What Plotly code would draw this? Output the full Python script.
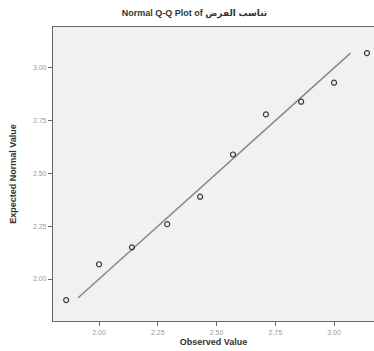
import plotly.graph_objects as go

observed = [1.86, 2.00, 2.14, 2.29, 2.43, 2.57, 2.71, 2.86, 3.00, 3.14]
expected = [1.90, 2.07, 2.15, 2.26, 2.39, 2.59, 2.78, 2.84, 2.93, 3.07]
ref_line = [1.91, 3.07]
tick_vals = [2.00, 2.25, 2.50, 2.75, 3.00]
tick_text = ["2.00", "2.25", "2.50", "2.75", "3.00"]

fig = go.Figure()
fig.add_trace(go.Scatter(x=ref_line, y=ref_line, mode="lines",
                         line=dict(color="#8a8a8a", width=1.6), hoverinfo="skip"))
fig.add_trace(go.Scatter(x=observed, y=expected, mode="markers",
                         marker=dict(symbol="circle-open", size=5, color="#3a3a3a",
                                     line=dict(width=1.2, color="#3a3a3a"))))

font = "Liberation Sans, DejaVu Sans, Arial, sans-serif"
fig.update_layout(
    width=374, height=351,
    margin=dict(l=53, r=0, t=27, b=30),
    paper_bgcolor="white", plot_bgcolor="#f1f1f1",
    showlegend=False,
    font=dict(family=font),
    title=dict(text="<b>Normal Q-Q Plot of تناسب الفرض</b>", x=0.52, xanchor="center",
               y=0.962, yanchor="middle", font=dict(size=9, color="#333")),
)
fig.update_xaxes(range=[1.804, 3.17], tickvals=tick_vals, ticktext=tick_text,
                 showgrid=False, zeroline=False, showline=True, linecolor="#666",
                 linewidth=1.2, mirror=True, ticks="outside", ticklen=4, tickcolor="#666",
                 tickfont=dict(size=7, color="#999"),
                 title=dict(text="<b>Observed Value</b>", font=dict(size=9, color="#333"),
                            standoff=4))
fig.update_yaxes(range=[1.801, 3.194], tickvals=tick_vals, ticktext=tick_text,
                 showgrid=False, zeroline=False, showline=True, linecolor="#666",
                 linewidth=1.2, mirror=False, ticks="outside", ticklen=4, tickcolor="#666",
                 tickfont=dict(size=7, color="#999"),
                 title=dict(text="<b>Expected Normal Value</b>", font=dict(size=9, color="#333"),
                            standoff=14))

fig.write_html("out.html")
